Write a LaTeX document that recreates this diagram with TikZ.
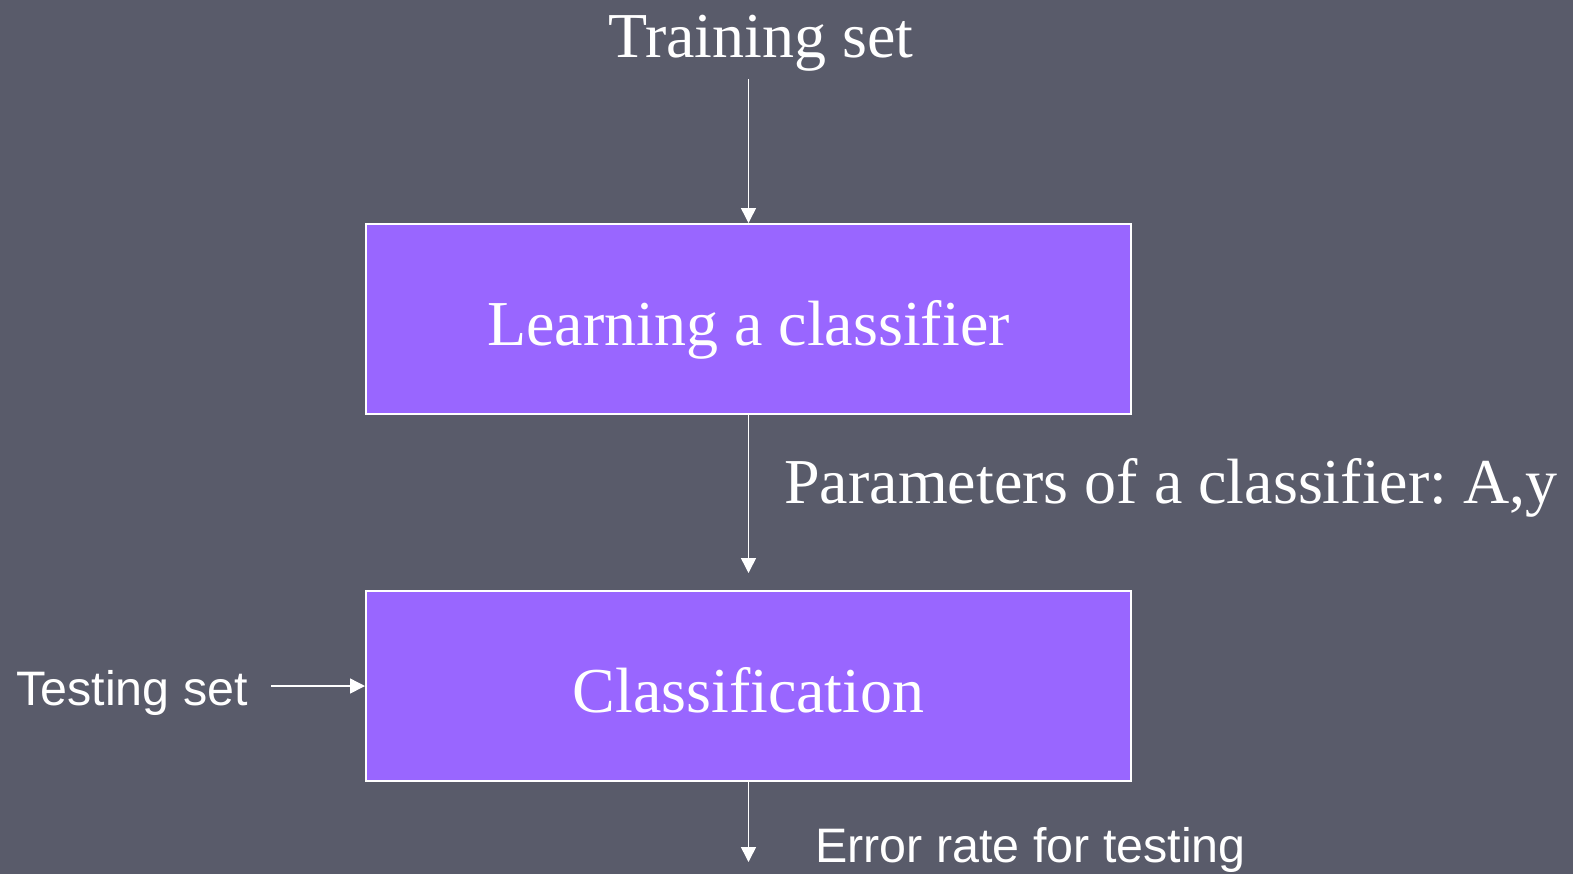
\documentclass[tikz,border=0pt]{standalone}
\usepackage{fontspec}
\setmainfont{Liberation Serif}
\setsansfont{Liberation Sans}
\usetikzlibrary{arrows.meta,positioning}

\definecolor{slidebg}{HTML}{595B6A}
\definecolor{boxfill}{HTML}{9966FF}

\begin{document}
\frenchspacing
\begin{tikzpicture}[x=0.5pt, y=-0.5pt,
    stage/.style={draw=white, line width=1pt, fill=boxfill, text=white,
        minimum width=382.5pt, minimum height=95pt, inner sep=0pt,
        text height=26pt, text depth=0pt,
        font=\fontsize{32}{36}\selectfont},
    serif label/.style={text=white, inner sep=0pt, font=\fontsize{32}{36}\selectfont},
    sans label/.style={text=white, inner sep=0pt, font=\sffamily\fontsize{24.2}{28}\selectfont},
    flow/.style={-{Triangle[width=7.5pt, length=7.5pt]}, white, line width=0.75pt}]

    % Hintergrund
    \fill[slidebg] (0,0) rectangle (1573,874);
    \useasboundingbox (0,0) rectangle (1573,874);

    % Kästen
    \node[stage] (learn) at (748.5,319) {Learning a classifier};
    \node[stage] (classify) at (748.5,686) {Classification};

    % Beschriftungen
    \node[serif label, anchor=base, inner sep=4pt] (train) at (761,57) {Training set};
    \node[serif label, anchor=base west] (params) at (784,503) {Parameters of a classifier: A,y};
    \node[sans label, anchor=base west] (test) at (16,705) {Testing set};
    \node[sans label, anchor=base west] (error) at (815,862) {Error rate for testing};
    \coordinate (errend) at (748.5,862);

    % Pfeile
    \draw[flow] (train.south -| learn.north) -- (learn.north);
    \draw[flow, shorten >=8.5pt] (learn.south) -- (classify.north);
    \draw[flow, shorten <=11.5pt] (test.east |- classify.west) -- (classify.west);
    \draw[flow] (classify.south) -- (errend);
\end{tikzpicture}
\end{document}
